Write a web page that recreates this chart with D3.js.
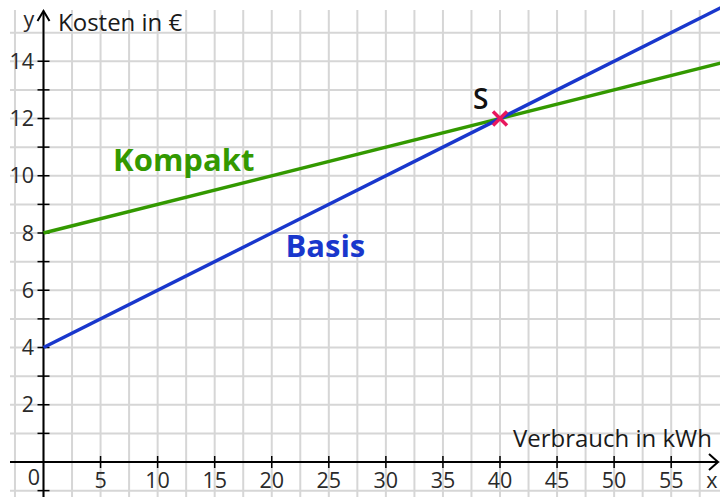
<!DOCTYPE html>
<html>
<head>
<meta charset="utf-8">
<script src="https://cdn.jsdelivr.net/npm/d3@7"></script>
<style>
  body { margin: 0; background: #fff; }
  svg { display: block; font-family: "Open Sans", "Noto Sans", sans-serif; }
</style>
</head>
<body>
<div id="graf"></div>
<script>
// Daten
const xTicks = [5, 10, 15, 20, 25, 30, 35, 40, 45, 50, 55];
const yTicks = [2, 4, 6, 8, 10, 12, 14];
const tarifNamen = ["Kompakt", "Basis"];
const tarifFarben = ["#339900", "#1937cc"];
const kompaktPunkte = [[0, 8], [60, 14]];
const basisPunkte = [[0, 4], [60, 16]];
const schnittpunkt = [40, 12];

const ancho = 720, alto = 497;

const svg = d3.select("#graf")
  .append("svg")
  .attr("width", ancho)
  .attr("height", alto);

// Escaladores
const x = d3.scaleLinear().domain([0, 40]).range([43.5, 500]);
const y = d3.scaleLinear().domain([0, 12]).range([462, 118.5]);

// Gitter
const grid = svg.append("g").attr("stroke", "#d6d6d6").attr("stroke-width", 2);
grid.selectAll("line.v")
  .data(d3.range(-2.5, 61, 2.5))
  .join("line")
  .attr("x1", d => x(d)).attr("x2", d => x(d))
  .attr("y1", 10).attr("y2", alto);
grid.selectAll("line.h")
  .data(d3.range(-1, 16, 1))
  .join("line")
  .attr("x1", 10).attr("x2", ancho)
  .attr("y1", d => y(d)).attr("y2", d => y(d));

// Achsen
const ejes = svg.append("g").attr("stroke", "#000").attr("stroke-width", 2).attr("fill", "none");
ejes.append("line").attr("x1", 10).attr("x2", 717).attr("y1", y(0)).attr("y2", y(0));
ejes.append("line").attr("x1", x(0)).attr("x2", x(0)).attr("y1", alto).attr("y2", 12);
ejes.append("path").attr("d", `M709,${y(0) - 8}L718,${y(0)}L709,${y(0) + 8}`);
ejes.append("path").attr("d", `M${x(0) - 6},21L${x(0)},11L${x(0) + 6},21`);

// Striche
ejes.selectAll("line.xt")
  .data(xTicks)
  .join("line")
  .attr("stroke-width", 1.5)
  .attr("x1", d => x(d)).attr("x2", d => x(d))
  .attr("y1", y(0) - 6).attr("y2", y(0) + 6);
ejes.selectAll("line.yt")
  .data(d3.range(-1, 15, 1))
  .join("line")
  .attr("stroke-width", 1.5)
  .attr("x1", x(0) - 6).attr("x2", x(0) + 6)
  .attr("y1", d => y(d)).attr("y2", d => y(d));

// Beschriftung
const etiquetas = svg.append("g").attr("fill", "#2a2a2a").style("font-size", "21.5px");
etiquetas.selectAll("text.xl")
  .data(xTicks)
  .join("text")
  .attr("x", d => x(d)).attr("y", 488)
  .attr("text-anchor", "middle")
  .text(d => d);
etiquetas.selectAll("text.yl")
  .data(yTicks)
  .join("text")
  .attr("x", 34).attr("y", d => y(d) + 7.5)
  .attr("text-anchor", "end")
  .text(d => d);
etiquetas.append("text").attr("x", 34).attr("y", 485).attr("text-anchor", "middle").text("0");
etiquetas.append("text").attr("x", 712).attr("y", 488).attr("text-anchor", "middle").text("x");
etiquetas.append("text").attr("x", 29).attr("y", 27).attr("text-anchor", "middle").text("y");

const titulos = svg.append("g").attr("fill", "#1a1a1a").style("font-size", "24px");
titulos.append("text").attr("x", 58).attr("y", 31).text("Kosten in €");
titulos.append("text").attr("x", 712).attr("y", 447).attr("text-anchor", "end").text("Verbrauch in kWh");

// Tarif-Geraden
const linea = d3.line().x(d => x(d[0])).y(d => y(d[1]));
const datos = [kompaktPunkte, basisPunkte];
svg.append("g").selectAll("path")
  .data(datos)
  .join("path")
  .attr("d", linea)
  .attr("fill", "none")
  .attr("stroke", (d, i) => tarifFarben[i])
  .attr("stroke-width", 3.5);

// Tarif-Namen
const posNamen = [[6.1, 10.15], [21.2, 7.15]];
svg.append("g").selectAll("text")
  .data(tarifNamen)
  .join("text")
  .attr("x", (d, i) => x(posNamen[i][0]))
  .attr("y", (d, i) => y(posNamen[i][1]))
  .attr("fill", (d, i) => tarifFarben[i])
  .style("font-size", "31px")
  .style("font-weight", "bold")
  .text(d => d);

// Schnittpunkt S
const sx = x(schnittpunkt[0]), sy = y(schnittpunkt[1]);
svg.append("path")
  .attr("d", `M${sx - 7},${sy - 7}L${sx + 7},${sy + 7}M${sx - 7},${sy + 7}L${sx + 7},${sy - 7}`)
  .attr("stroke", "#e8175d")
  .attr("stroke-width", 3.5);
svg.append("text")
  .attr("x", sx - 27).attr("y", sy - 10)
  .attr("fill", "#111")
  .style("font-size", "28px")
  .style("font-weight", "600")
  .text("S");
</script>
</body>
</html>
